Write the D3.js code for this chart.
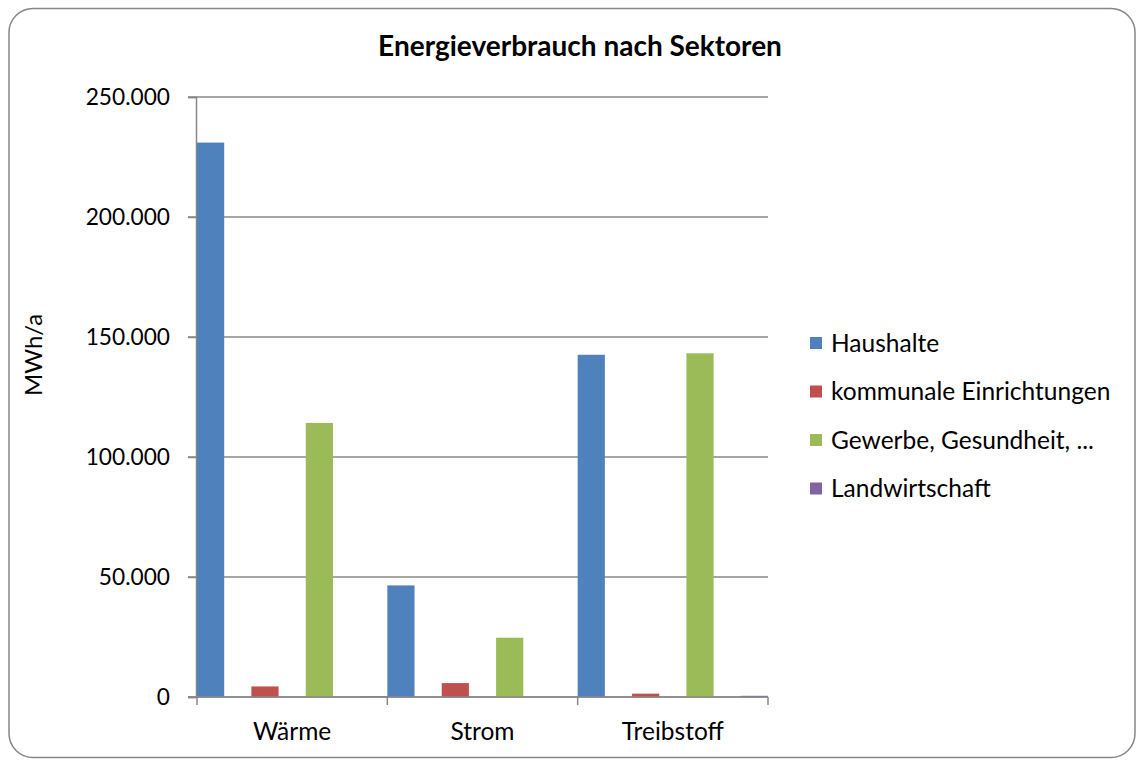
<!DOCTYPE html>
<html><head><meta charset="utf-8">
<script src="https://cdn.jsdelivr.net/npm/d3@7"></script>
<style>body{margin:0;background:#fff;} svg{display:block;} text{font-family:Lato,"Open Sans",sans-serif;fill:#000;}</style>
</head><body>
<script>
const categories = ["Wärme", "Strom", "Treibstoff"];
const seriesNames = ["Haushalte", "kommunale Einrichtungen", "Gewerbe, Gesundheit, ...", "Landwirtschaft"];
const haushalte = [231000, 46500, 142600];
const kommunal = [4400, 5800, 1400];
const gewerbe = [114200, 24700, 143200];
const landwirtschaft = [400, 0, 500];
const yTicks = [0, 50000, 100000, 150000, 200000, 250000];
const colors = ["#4F81BD", "#C0504D", "#9BBB59", "#8064A2"];
const seriesValues = [haushalte, kommunal, gewerbe, landwirtschaft];

(function () {
const W = 1137, H = 760;
const svg = d3.select("body").append("svg").attr("width", W).attr("height", H);
svg.append("rect").attr("x", 9).attr("y", 8.5).attr("width", 1126).attr("height", 749)
  .attr("rx", 24).attr("fill", "#fff").attr("stroke", "#878787").attr("stroke-width", 1.5);

const pLeft = 197, pRight = 768, pTop = 97, pBottom = 697;
const y = d3.scaleLinear().domain([0, 250000]).range([pBottom, pTop]);
const x0 = d3.scaleBand().domain(categories).range([pLeft, pRight]).padding(0);
const x1 = d3.scaleBand().domain(seriesNames).range([0, x0.bandwidth()]).paddingInner(0.5).paddingOuter(0);

const fmt = v => d3.format(",")(v).replace(/,/g, ".");

// gridlines
svg.append("g").selectAll("line").data(yTicks).join("line")
  .attr("x1", 188).attr("x2", pRight).attr("y1", d => y(d)).attr("y2", d => y(d))
  .attr("stroke", "#888").attr("stroke-width", 1.5);

// y axis
const yAxis = d3.axisLeft(y).tickValues(yTicks).tickSize(8).tickPadding(18).tickFormat(fmt);
const gy = svg.append("g").attr("transform", `translate(${pLeft - 1},0)`).call(yAxis);
gy.select(".domain").attr("stroke", "#888").attr("stroke-width", 1.5);
gy.selectAll(".tick line").attr("stroke", "#888").attr("stroke-width", 1.5);
gy.selectAll("text").style("font-size", "22.7px").style("font-family", "Lato, sans-serif");

// bars
const gb = svg.append("g");
categories.forEach((c, ci) => {
  seriesNames.forEach((s, si) => {
    const v = seriesValues[si][ci];
    if (v <= 0) return;
    gb.append("rect")
      .attr("x", x0(c) + x1(s)).attr("width", x1.bandwidth())
      .attr("y", y(v)).attr("height", y(0) - y(v))
      .attr("fill", colors[si]);
  });
});

// x axis
const xAxis = d3.axisBottom(x0).tickSize(0).tickPadding(0);
const gx = svg.append("g").attr("transform", `translate(0,${pBottom})`).call(xAxis);
gx.select(".domain").remove();
gx.selectAll(".tick text").attr("dy", null).attr("y", 43)
  .style("font-size", "24.5px").style("font-family", "Lato, sans-serif");
gx.append("line").attr("x1", 188).attr("x2", pRight).attr("y1", 0).attr("y2", 0).attr("stroke", "#888").attr("stroke-width", 1.5);
const bounds = categories.map(c => x0(c)).concat([pRight]);
gx.selectAll(".sep").data(bounds).join("line").attr("class", "sep")
  .attr("x1", d => d).attr("x2", d => d).attr("y1", 0).attr("y2", 8)
  .attr("stroke", "#888").attr("stroke-width", 1.5);

// title
svg.append("text").attr("x", 580).attr("y", 56).attr("text-anchor", "middle")
  .style("font-size", "28px").style("font-weight", "bold").text("Energieverbrauch nach Sektoren");

// y label
svg.append("text").attr("transform", "translate(42,355) rotate(-90)").attr("text-anchor", "middle")
  .style("font-size", "24px").text("MWh/a");

// legend
const lg = svg.append("g");
seriesNames.forEach((s, i) => {
  const cy = 343 + i * 48.5;
  lg.append("rect").attr("x", 810).attr("y", cy - 6).attr("width", 12).attr("height", 12).attr("fill", colors[i]);
  lg.append("text").attr("x", 831).attr("y", cy + 8.5).style("font-size", "24.5px").text(s);
});
})();
</script>
</body></html>
